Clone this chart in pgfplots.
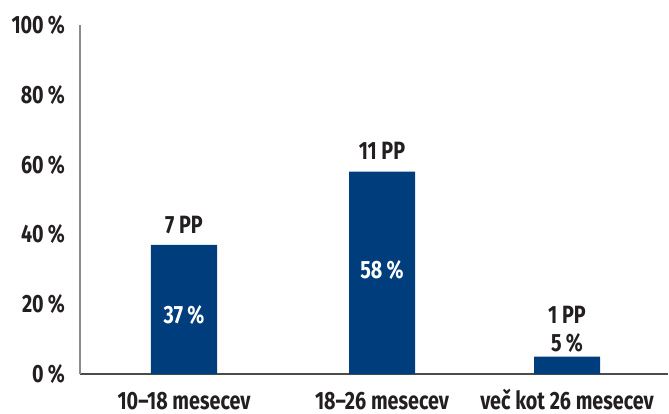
\documentclass[border=0pt]{standalone}
\usepackage{pgfplots}
\pgfplotsset{compat=1.18}
\usepackage{fontspec}
\setmainfont{Fira Sans}[FakeStretch=0.79]
\definecolor{barblue}{RGB}{0,61,125}
\definecolor{txt}{RGB}{35,31,32}
\begin{document}
\begin{tikzpicture}[font=\fontsize{12.5}{14}\selectfont\bfseries]
\useasboundingbox (-40pt,-19.5pt) rectangle (294.5pt,187pt);
\begin{axis}[
  scale only axis,
  width=294pt, height=174.5pt,
  xmin=80, xmax=668, ymin=0, ymax=100,
  axis x line*=bottom, axis y line*=left,
  x axis line style={draw=black!70, line width=0.6pt, -},
  y axis line style={draw=black!45, line width=0.8pt, -},
  major tick length=0pt,
  ytick={0,20,40,60,80,100},
  /pgf/number format/assume math mode=true,
  yticklabel={\pgfmathprintnumber{\tick}\,\%},
  yticklabel style={text=txt, xshift=-4pt},
  xtick={184,382,567},
  xticklabels={10--18 mesecev, 18--26 mesecev, več kot 26 mesecev},
  xticklabel style={text=txt, inner sep=0pt, text height=9pt, text depth=0pt, anchor=north, yshift=-8.3pt},
  clip=false,
]
\addplot[ybar, bar width=33pt, fill=barblue, draw=none] coordinates {(184,37) (382,58) (567,5)};
\node[text=txt] at (axis cs:184,37) [yshift=10pt] {7 PP};
\node[text=txt] at (axis cs:382,58) [yshift=10.5pt] {11 PP};
\node[text=txt] at (axis cs:567,5) [yshift=21pt] {1 PP};
\node[text=white] at (axis cs:184,16.9) {37\,\%};
\node[text=white] at (axis cs:382,29.8) {58\,\%};
\node[text=txt] at (axis cs:567,5) [yshift=7pt] {5\,\%};
\end{axis}
\end{tikzpicture}
\end{document}
